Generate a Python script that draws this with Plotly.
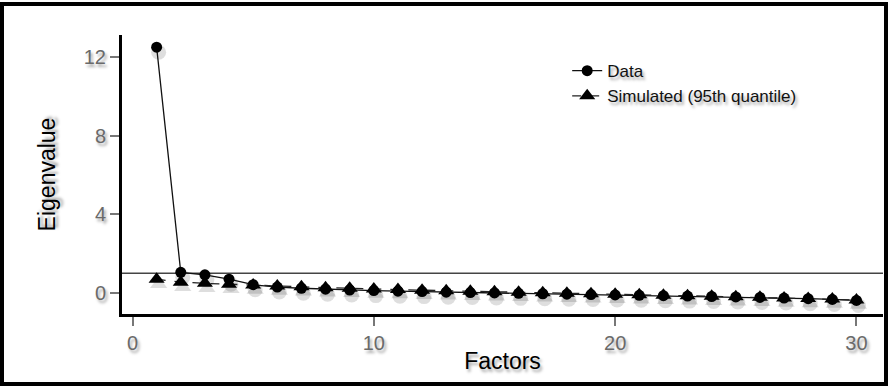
import plotly.graph_objects as go

# Scree plot: observed eigenvalues vs. 95th-quantile eigenvalues from simulated data
factors = list(range(1, 31))
data_eigen = [12.5, 1.05, 0.92, 0.70, 0.42, 0.30, 0.24, 0.19, 0.15, 0.12,
              0.09, 0.07, 0.04, 0.02, 0.00, -0.02, -0.04, -0.06, -0.08, -0.10,
              -0.12, -0.14, -0.16, -0.18, -0.20, -0.23, -0.26, -0.29, -0.33, -0.38]
sim_eigen = [0.70, 0.55, 0.49, 0.44, 0.40, 0.35, 0.31, 0.27, 0.24, 0.20,
             0.17, 0.14, 0.11, 0.09, 0.06, 0.03, 0.01, -0.02, -0.04, -0.07,
             -0.09, -0.12, -0.14, -0.17, -0.19, -0.22, -0.25, -0.28, -0.31, -0.36]
x_ticks = [0, 10, 20, 30]
y_ticks = [0, 4, 8, 12]
kaiser_line = 1

series_names = ["Data", "Simulated (95th quantile)"]

W, H = 888, 387
L, R, T, B = 122, 5, 35, 73
x_range = [-0.435, 31.1]
y_range = [-1.07, 13.12]

# drop-shadow offsets (pixels -> data units)
px_x = (x_range[1] - x_range[0]) / (W - L - R)
px_y = (y_range[1] - y_range[0]) / (H - T - B)
sdx, sdy = 2 * px_x, -5 * px_y

shadow = "rgba(0,0,0,0.13)"
text_shadow = "2px 3px 3px rgba(0,0,0,0.35)"

fig = go.Figure()

# soft shadows beneath the markers
for ys, sym in [(data_eigen, "circle"), (sim_eigen, "triangle-up")]:
    fig.add_trace(go.Scatter(
        x=[v + sdx for v in factors], y=[v + sdy for v in ys],
        mode="markers", showlegend=False, hoverinfo="skip",
        marker=dict(symbol=sym, size=15, color=shadow),
    ))

fig.add_trace(go.Scatter(
    x=factors, y=data_eigen, name=series_names[0], mode="lines+markers",
    line=dict(color="#111", width=1.3),
    marker=dict(symbol="circle", size=11, color="black"),
))
fig.add_trace(go.Scatter(
    x=factors, y=sim_eigen, name=series_names[1], mode="lines+markers",
    line=dict(color="#222", width=1.3, dash="dash"),
    marker=dict(symbol="triangle-up", size=14, color="black"),
))

# horizontal reference line at eigenvalue 1
fig.add_shape(type="line", xref="paper", yref="y", x0=0, x1=1,
              y0=kaiser_line, y1=kaiser_line,
              line=dict(color="#444", width=1.5), layer="below")

# outer frame
pw, ph = W - L - R, H - T - B
fig.add_shape(type="rect", xref="paper", yref="paper",
              x0=(2 - L) / pw, x1=(W - 2 - L) / pw,
              y0=(H - B - (H - 3)) / ph, y1=(H - B - 4) / ph,
              line=dict(color="black", width=4), layer="above")

tick_font = dict(family="Liberation Sans, Arial", size=20, color="#6a6a6a",
                 shadow=text_shadow)
title_font = dict(family="Liberation Sans, Arial", size=23, color="black",
                  shadow=text_shadow)

fig.update_layout(
    width=W, height=H,
    margin=dict(l=L, r=R, t=T, b=B),
    paper_bgcolor="white", plot_bgcolor="white",
    xaxis=dict(range=x_range, tickvals=x_ticks, showgrid=False, zeroline=False,
               showline=True, linecolor="black", linewidth=3,
               ticks="outside", ticklen=9, tickwidth=1.5, tickcolor="#777",
               tickfont=tick_font,
               title=dict(text="Factors", font=title_font, standoff=0)),
    yaxis=dict(range=y_range, tickvals=y_ticks, showgrid=False, zeroline=False,
               showline=True, linecolor="black", linewidth=3,
               ticks="outside", ticklen=9, tickwidth=1.5, tickcolor="#777",
               tickfont=tick_font,
               title=dict(text="Eigenvalue", font=title_font, standoff=22)),
    legend=dict(x=0.585, y=0.935, xanchor="left", yanchor="top",
                bgcolor="rgba(0,0,0,0)", itemwidth=30, tracegroupgap=0,
                font=dict(family="Liberation Sans, Arial", size=17, color="#111",
                          shadow=text_shadow)),
)

fig.write_html("out.html")
